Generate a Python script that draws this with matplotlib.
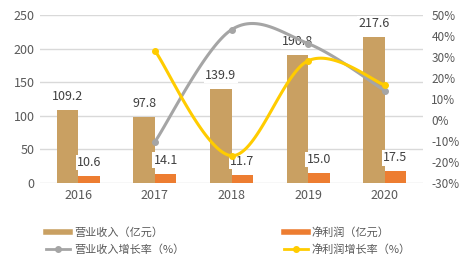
import numpy as np
import matplotlib
matplotlib.use("Agg")
import matplotlib.pyplot as plt
from matplotlib.lines import Line2D

plt.rcParams['font.family'] = ['Noto Sans CJK SC', 'DejaVu Sans']

years = ['2016', '2017', '2018', '2019', '2020']
revenue = [109.2, 97.8, 139.9, 190.8, 217.6]
profit = [10.6, 14.1, 11.7, 15.0, 17.5]
rev_growth = [None, -10.4, 43.0, 36.4, 14.0]
profit_growth = [None, 33.0, -17.0, 28.2, 16.7]
left_ticks = [0, 50, 100, 150, 200, 250]
right_ticks = [-30, -20, -10, 0, 10, 20, 30, 40, 50]
labels = ['营业收入（亿元）', '净利润（亿元）', '营业收入增长率（%）', '净利润增长率（%）']

C_REV = '#C9A062'
C_PRO = '#ED7D31'
C_RG = '#A5A5A5'
C_PG = '#FFCC00'
TXT = '#595959'

fig = plt.figure(figsize=(4.67, 2.65), dpi=100)
ax = fig.add_axes([40/467, 82/265, 383/467, 168/265])
ax2 = ax.twinx()

x = np.arange(len(years))
w = 0.28
ax.bar(x - w/2, revenue, w, color=C_REV, zorder=2)
ax.bar(x + w/2, profit, w, color=C_PRO, zorder=2)

ax.set_ylim(0, 250)
ax.set_xlim(-0.5, 4.5)
ax.set_yticks(left_ticks)
ax.grid(axis='y', color='#D9D9D9', linewidth=1, zorder=0)
ax.set_axisbelow(True)
ax.set_xticks(x)
ax.set_xticklabels(years)
for s in ax.spines.values():
    s.set_visible(False)
for s in ax2.spines.values():
    s.set_visible(False)
ax.tick_params(length=0, labelsize=9, colors=TXT, pad=4)
ax2.tick_params(length=0, labelsize=8.5, colors=TXT, pad=6)

ax2.set_ylim(-30, 50)
ax2.set_yticks(right_ticks)
ax2.set_yticklabels([f'{t}%' for t in right_ticks])

bbox = dict(boxstyle='square,pad=0.1', fc='white', ec='none')
for xi, v in zip(x, revenue):
    ax.annotate(f'{v:.1f}', (xi - w/2, v), xytext=(0, 5), textcoords='offset points',
                ha='center', va='bottom', fontsize=9, color='#404040', bbox=bbox, zorder=5)
for xi, v in zip(x, profit):
    ax.annotate(f'{v:.1f}', (xi + w/2, v), xytext=(0, 5), textcoords='offset points',
                ha='center', va='bottom', fontsize=9, color='#404040', bbox=bbox, zorder=5)

# scale factors to mimic screen-space smoothing (px per unit)
SX, SY = 76.6, 2.1

def smooth(xs, ys, n=40):
    P = np.column_stack([np.array(xs) * SX, np.array(ys) * SY])
    out = []
    m = len(P)
    for i in range(m - 1):
        p0 = P[i - 1] if i > 0 else P[i]
        p1 = P[i]
        p2 = P[i + 1]
        p3 = P[i + 2] if i + 2 < m else P[i + 1]
        c1 = p1 + (p2 - p0) / 6
        c2 = p2 - (p3 - p1) / 6
        t = np.linspace(0, 1, n)[:, None]
        seg = (1-t)**3*p1 + 3*(1-t)**2*t*c1 + 3*(1-t)*t**2*c2 + t**3*p2
        out.append(seg if i == 0 else seg[1:])
    arr = np.vstack(out)
    return arr[:, 0] / SX, arr[:, 1] / SY

for data, col, z in [(rev_growth, C_RG, 3), (profit_growth, C_PG, 4)]:
    xs = [xi for xi, v in zip(x, data) if v is not None]
    ys = [v for v in data if v is not None]
    sx, sy = smooth(xs, ys)
    ax2.plot(sx, sy, color=col, linewidth=2.2, zorder=z, solid_capstyle='round')
    ax2.plot(xs, ys, 'o', color=col, markersize=4, zorder=z)

handles = [
    Line2D([], [], color=C_REV, linewidth=4),
    Line2D([], [], color=C_RG, linewidth=2, marker='o', markersize=4),
    Line2D([], [], color=C_PRO, linewidth=4),
    Line2D([], [], color=C_PG, linewidth=2, marker='o', markersize=4),
]
leg_labels = [labels[0], labels[2], labels[1], labels[3]]
fig.legend(handles, leg_labels, loc='center left', bbox_to_anchor=(46/467, 1 - 241/265),
           ncol=2, frameon=False, fontsize=8, labelcolor=TXT, handlelength=2.2,
           handletextpad=0.3, columnspacing=9.0, labelspacing=0.6, borderaxespad=0,
           borderpad=0)

fig.savefig('out.png', dpi=100)
